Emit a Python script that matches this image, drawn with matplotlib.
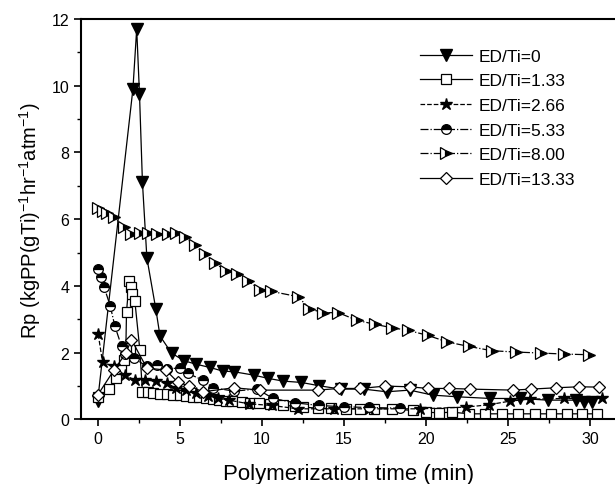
import numpy as np
import matplotlib.pyplot as plt
from matplotlib.ticker import MultipleLocator

plt.rcParams['font.family'] = ['Liberation Sans', 'DejaVu Sans']

# ED/Ti = 0
t0 = [0, 2.15, 2.38, 2.55, 2.73, 3.0, 3.54, 3.8, 4.5, 5.26, 5.97, 6.82, 7.63, 8.3, 9.5,
      10.4, 11.3, 12.4, 13.5, 14.8, 16.2, 17.6, 19.0, 20.4, 21.9, 23.9, 25.7, 27.4,
      29.1, 29.6, 30.1]
r0 = [0.55, 9.9, 11.7, 9.75, 7.1, 4.84, 3.32, 2.5, 1.99, 1.76, 1.66, 1.56, 1.45, 1.43, 1.33,
      1.23, 1.15, 1.11, 1.01, 0.91, 0.91, 0.83, 0.88, 0.73, 0.68, 0.63, 0.63, 0.58,
      0.58, 0.53, 0.53]

# ED/Ti = 1.33
t1 = [0, 0.71, 1.11, 1.42, 1.58, 1.72, 1.76, 1.92, 2.06, 2.08, 2.27, 2.57, 2.73, 3.08, 3.4,
      3.8, 4.25, 4.6, 5.0, 5.4, 5.8, 6.2, 6.6, 7.0, 7.4, 7.8, 8.2, 8.8, 9.3, 9.8, 10.5,
      11.3, 12.0, 12.5, 13.4, 14.2, 15.1, 16.0, 16.8, 17.9, 19.2, 20.0, 20.8, 21.6, 22.6,
      23.6, 24.6, 25.6, 26.6, 27.6, 28.6, 29.5, 30.4]
r1 = [0.68, 0.91, 1.23, 1.52, 1.79, 2.14, 3.23, 4.14, 3.96, 3.76, 3.54, 2.09, 0.83, 0.81, 0.78,
      0.75, 0.75, 0.73, 0.72, 0.7, 0.68, 0.66, 0.63, 0.6, 0.58, 0.56, 0.55, 0.53, 0.5, 0.48, 0.45,
      0.42, 0.4, 0.37, 0.34, 0.33, 0.32, 0.32, 0.32, 0.32, 0.27, 0.22, 0.2, 0.22, 0.17,
      0.17, 0.17, 0.17, 0.17, 0.17, 0.17, 0.17, 0.17]

# ED/Ti = 2.66
t2 = [0.04, 0.3, 1.0, 1.66, 2.27, 2.9, 3.54, 4.2, 4.8, 5.4, 6.0, 6.7, 7.3, 8.0, 9.2,
      10.6, 12.2, 14.4, 16.5, 19.6, 22.4, 23.8, 25.1, 26.3, 28.4, 30.7]
r2 = [2.55, 1.71, 1.59, 1.33, 1.18, 1.18, 1.15, 1.08, 0.95, 0.88, 0.78, 0.71, 0.63, 0.58, 0.47,
      0.42, 0.32, 0.32, 0.32, 0.32, 0.37, 0.44, 0.55, 0.61, 0.63, 0.63]

# ED/Ti = 5.33
t3 = [0, 0.2, 0.4, 0.77, 1.05, 1.46, 1.68, 2.23, 2.98, 3.64, 4.2, 5.0, 5.5, 6.4, 7.04,
      8.3, 9.7, 10.7, 12.0, 13.5, 15.0, 16.5, 18.4]
r3 = [4.52, 4.26, 3.96, 3.4, 2.8, 2.19, 1.96, 1.84, 1.59, 1.62, 1.52, 1.54, 1.38, 1.18, 0.95,
      0.85, 0.91, 0.63, 0.5, 0.42, 0.38, 0.36, 0.34]

# ED/Ti = 8.00
t4 = [0, 0.3, 0.57, 0.97, 1.58, 2.06, 2.6, 3.08, 3.64, 4.29, 4.76, 5.3, 5.9, 6.52, 7.13,
      7.79, 8.5, 9.15, 9.9, 10.55, 12.2, 12.9, 13.7, 14.65, 15.8, 16.9, 17.9, 18.9, 20.1,
      21.3, 22.6, 24.0, 25.5, 27.0, 28.4, 29.9]
r4 = [6.33, 6.25, 6.18, 6.08, 5.76, 5.56, 5.58, 5.58, 5.56, 5.56, 5.6, 5.47, 5.22, 4.95, 4.69,
      4.46, 4.36, 4.16, 3.88, 3.84, 3.68, 3.32, 3.2, 3.2, 2.97, 2.85, 2.75, 2.67, 2.52,
      2.32, 2.19, 2.06, 2.02, 1.99, 1.96, 1.94]

# ED/Ti = 13.33
t5 = [0, 1.0, 1.72, 2.06, 3.0, 4.15, 4.9, 5.57, 6.4, 8.3, 9.9, 13.4, 14.7, 16.0, 17.5,
      19.0, 20.1, 21.4, 22.7, 25.3, 26.4, 27.9, 29.3, 30.5]
r5 = [0.73, 1.48, 1.99, 2.39, 1.54, 1.48, 1.11, 1.01, 0.83, 0.95, 0.88, 0.88, 0.93, 0.93, 1.0,
      0.98, 0.93, 0.93, 0.91, 0.88, 0.91, 0.95, 0.98, 0.97]

labels = ['ED/Ti=0', 'ED/Ti=1.33', 'ED/Ti=2.66', 'ED/Ti=5.33', 'ED/Ti=8.00', 'ED/Ti=13.33']

fig = plt.figure(figsize=(6.15, 4.85), dpi=100)
ax = fig.add_axes([0.132, 0.133, 0.868, 0.826])

lw = 0.9
ax.plot(t0, r0, '-', color='k', lw=lw, marker='v', ms=8, mfc='k', label=labels[0])
ax.plot(t1, r1, '-', color='k', lw=lw, marker='s', ms=7, mfc='white', mew=0.9, label=labels[1])
ax.plot(t2, r2, '--', color='k', lw=lw, marker='*', ms=9, mfc='k', label=labels[2])
ax.plot(t3, r3, '-.', color='k', lw=lw, marker='o', ms=7, fillstyle='top', mfc='k',
        mfcalt='white', mew=0.9, label=labels[3])
ax.plot(t4, r4, '-.', color='k', lw=lw, marker='>', ms=8, fillstyle='right', mfc='k',
        mfcalt='white', mew=0.9, label=labels[4])
ax.plot(t5, r5, '-', color='k', lw=lw, marker='D', ms=6.5, mfc='white', mew=0.9, label=labels[5])

ax.set_xlim(-1, 31.5)
ax.set_ylim(0, 12)
ax.xaxis.set_major_locator(MultipleLocator(5))
ax.xaxis.set_minor_locator(MultipleLocator(2.5))
ax.yaxis.set_major_locator(MultipleLocator(2))
ax.yaxis.set_minor_locator(MultipleLocator(1))
ax.tick_params(which='major', direction='out', length=5, width=1.2, labelsize=11.5)
ax.tick_params(which='minor', direction='out', length=3, width=1.0)
ax.spines['right'].set_visible(False)
for s in ['left', 'bottom', 'top']:
    ax.spines[s].set_linewidth(1.5)

ax.set_xlabel('Polymerization time (min)', fontsize=16, labelpad=12)
ax.set_ylabel(r'Rp (kgPP(gTi)$^{\mathregular{-1}}$hr$^{\mathregular{-1}}$atm$^{\mathregular{-1}}$)',
              fontsize=14.5, labelpad=6)

ax.legend(loc='upper right', bbox_to_anchor=(0.955, 0.965), frameon=False, fontsize=12.5,
          handlelength=3.0, labelspacing=0.55, handletextpad=0.4)

fig.savefig('out.png', dpi=100)
